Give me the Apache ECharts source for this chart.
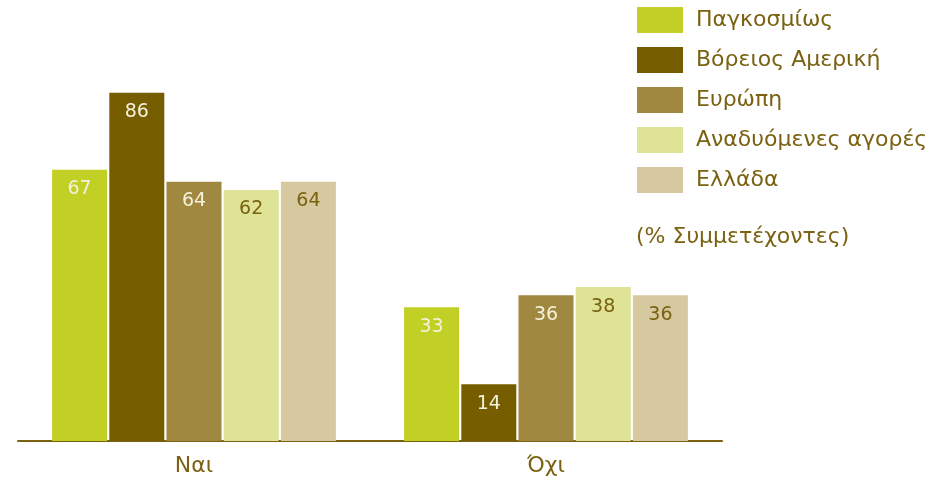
<!DOCTYPE html>
<html>
<head>
<meta charset="utf-8">
<script src="https://cdn.jsdelivr.net/npm/echarts@6/dist/echarts.min.js"></script>
<style>
html,body{margin:0;padding:0;background:#fff;}
#chart{width:941px;height:481px;}
</style>
</head>
<body>
<div id="chart"></div>
<script>
// Survey answers by region
const categories = ['Ναι', 'Όχι'];
const seriesNames = ['Παγκοσμίως', 'Βόρειος Αμερική', 'Ευρώπη', 'Αναδυόμενες αγορές', 'Ελλάδα'];
const globalVals = [67, 33];
const northAmericaVals = [86, 14];
const europeVals = [64, 36];
const emergingVals = [62, 38];
const greeceVals = [64, 36];
const unitNote = '(% Συμμετέχοντες)';

const colors = ['#c2cf24', '#765d00', '#a08840', '#dfe396', '#d6c89f'];
const labelColors = ['#f4f1dc', '#f4f1dc', '#f4f1dc', '#7a6212', '#7a6212'];
const textColor = '#7a6212';
const font = '"DejaVu Sans", "Liberation Sans", sans-serif';

const values = [globalVals, northAmericaVals, europeVals, emergingVals, greeceVals];

const chart = echarts.init(document.getElementById('chart'));
chart.setOption({
  animation: false,
  backgroundColor: '#fff',
  textStyle: { fontFamily: font },
  title: {
    text: unitNote,
    left: 631,
    top: 221,
    textStyle: { color: textColor, fontSize: 22, fontWeight: 'normal', fontFamily: font }
  },
  legend: {
    orient: 'vertical',
    left: 632,
    top: 2,
    itemWidth: 46,
    itemHeight: 26,
    itemGap: 14,
    icon: 'rect',
    textStyle: { color: textColor, fontSize: 22, fontFamily: font, padding: [0, 0, 0, 8] },
    data: seriesNames
  },
  grid: { left: 18, right: 219, top: 36, bottom: 40 },
  xAxis: {
    type: 'category',
    data: categories,
    axisLine: { lineStyle: { color: '#7a6212', width: 2 } },
    axisTick: { show: false },
    axisLabel: { color: textColor, fontSize: 22, margin: 14, fontFamily: font }
  },
  yAxis: {
    type: 'value',
    min: 0,
    max: 100,
    show: false,
    splitLine: { show: false }
  },
  series: seriesNames.map((name, i) => ({
    name: name,
    type: 'bar',
    data: values[i],
    barWidth: 55,
    barGap: '4%',
    itemStyle: { color: colors[i] },
    label: {
      show: true,
      position: 'insideTop',
      distance: 10,
      color: labelColors[i],
      fontSize: 19,
      fontFamily: font
    }
  }))
});
</script>
</body>
</html>
